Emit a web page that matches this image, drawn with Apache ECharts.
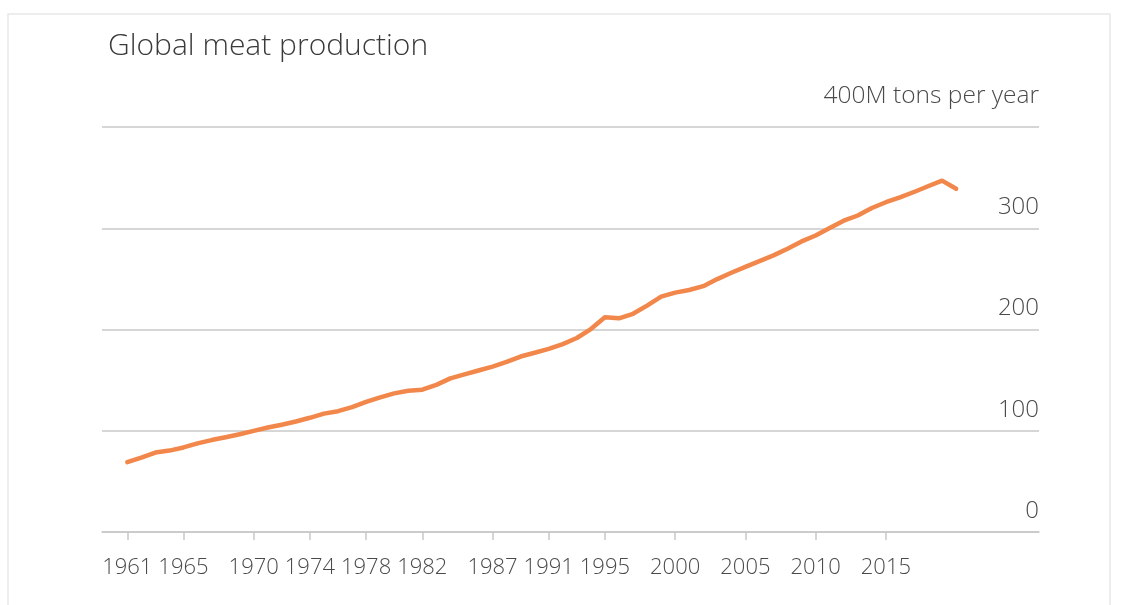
<!DOCTYPE html>
<html>
<head>
<meta charset="utf-8">
<script src="https://cdn.jsdelivr.net/npm/echarts@6/dist/echarts.min.js"></script>
<style>
html,body{margin:0;padding:0;background:#fff;}
#chart{width:1125px;height:605px;}
</style>
</head>
<body>
<div id="chart"></div>
<script>
const years = [];
for (let y = 1961; y <= 2020; y++) years.push(y);
const production = [
  69, 73.5, 78.5, 80.4, 83.5, 87.5, 90.8, 93.6, 96.6, 99.9,
  103.2, 106, 109.1, 112.8, 116.9, 119.3, 123.3, 128.5, 133, 136.9,
  139.5, 140.6, 145.3, 151.7, 155.6, 159.5, 163.4, 168, 173.3, 177,
  180.8, 185.6, 191.6, 200.4, 212, 211, 215.5, 223.6, 232.5, 236.4,
  239, 242.8, 249.8, 256, 261.9, 267.6, 273.2, 279.8, 287, 292.8,
  300.2, 307.5, 312.6, 320, 325.7, 330.4, 335.8, 341.5, 347, 339
];
const tickYears = [1961, 1965, 1970, 1974, 1978, 1982, 1987, 1991, 1995, 2000, 2005, 2010, 2015];
const yTicks = [0, 100, 200, 300, 400];
const titleText = 'Global meat production';
const topLabel = '400M tons per year';

const FONT = '"Open Sans", "Noto Sans", sans-serif';
const chart = echarts.init(document.getElementById('chart'));
chart.setOption({
  animation: false,
  backgroundColor: '#fff',
  graphic: [{
    type: 'rect',
    shape: { x: 8, y: 14, width: 1102, height: 640 },
    style: { fill: 'none', stroke: '#e8e8e8', lineWidth: 1.5 },
    silent: true, z: -10
  }],
  title: {
    text: titleText,
    left: 103, top: 26,
    textStyle: { fontFamily: FONT, fontWeight: 300, fontSize: 30, color: '#3a3a3a' }
  },
  grid: { left: 102, right: 86, top: 127, bottom: 73, containLabel: false },
  xAxis: {
    type: 'value',
    min: 1959.2, max: 2025.9,
    splitLine: { show: false },
    axisLine: { show: true, lineStyle: { color: '#c8c8c8', width: 1.5 } },
    axisTick: { show: true, customValues: tickYears, length: 8, lineStyle: { color: '#c8c8c8', width: 1.5 } },
    axisLabel: {
      customValues: tickYears,
      formatter: v => String(v),
      margin: 25,
      fontFamily: FONT, fontWeight: 300, fontSize: 22, color: '#4a4a4a'
    }
  },
  yAxis: {
    type: 'value',
    position: 'right',
    min: yTicks[0], max: yTicks[yTicks.length - 1], interval: 100,
    axisLine: { show: false },
    axisTick: { show: false },
    splitLine: { show: true, lineStyle: { color: '#c8c8c8', width: 1.5 } },
    axisLabel: {
      inside: true,
      margin: 0,
      align: 'right',
      verticalAlign: 'bottom',
      padding: [0, 0, 9, 0],
      fontFamily: FONT, fontWeight: 300, fontSize: 24, color: '#4a4a4a',
      formatter: v => v === 400 ? '{t|' + topLabel + '}' : String(v),
      rich: { t: { fontFamily: FONT, fontWeight: 300, fontSize: 24.5, color: '#4a4a4a', padding: [0, 0, 9, 0] } }
    }
  },
  series: [{
    type: 'line',
    data: years.map((y, i) => [y, production[i]]),
    symbol: 'none',
    lineStyle: { color: '#F2874B', width: 4.5, cap: 'round', join: 'round' },
    silent: true
  }]
});
</script>
</body>
</html>
